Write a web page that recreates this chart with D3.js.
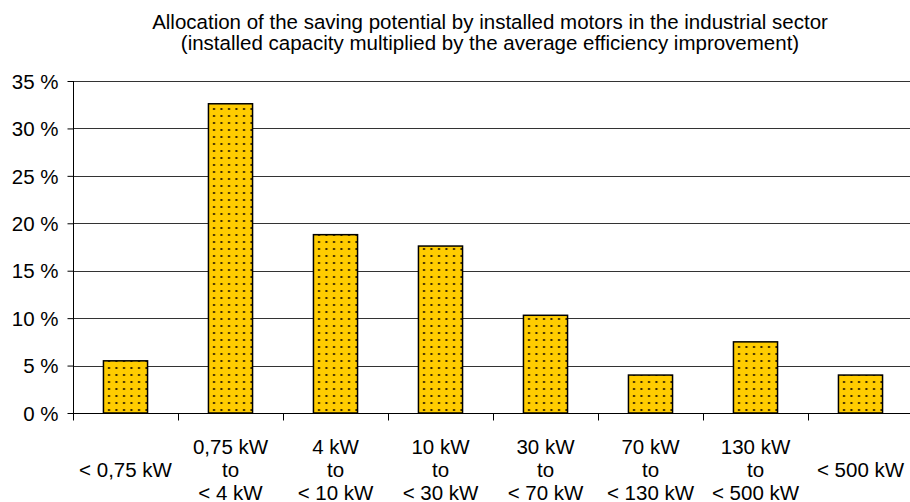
<!DOCTYPE html>
<html lang="en">
<head>
    <meta charset="UTF-8">
    <title>Allocation of the saving potential</title>
    <script src="https://d3js.org/d3.v7.min.js"></script>
    <style>
        body {
            margin: 0;
            background: #fff;
            font-family: 'Liberation Sans', Arial, sans-serif;
        }
        .title { font-size: 20.5px; fill: #000; }
        .axis text { font-size: 20.5px; fill: #000; font-family: 'Liberation Sans', Arial, sans-serif; }
        .axis path, .axis line { stroke: #000; }
        .grid line { stroke: #333; }
        .bar { stroke: #000; stroke-width: 1.5; }
    </style>
</head>
<body>
    <svg id="chart" width="910" height="502"></svg>

    <script>
        const categories = [
            ["", "< 0,75 kW", ""],
            ["0,75 kW", "to", "< 4 kW"],
            ["4 kW", "to", "< 10 kW"],
            ["10 kW", "to", "< 30 kW"],
            ["30 kW", "to", "< 70 kW"],
            ["70 kW", "to", "< 130 kW"],
            ["130 kW", "to", "< 500 kW"],
            ["", "< 500 kW", ""]
        ];
        const values = [5.5, 32.6, 18.8, 17.6, 10.3, 4.0, 7.5, 4.0];
        const yTicks = [0, 5, 10, 15, 20, 25, 30, 35];
        const titleLines = [
            "Allocation of the saving potential by installed motors in the industrial sector",
            "(installed capacity multiplied by the average efficiency improvement)"
        ];

        const svg = d3.select("#chart");
        const margin = { left: 73, top: 81, bottom: 413 };
        const bandW = 105;
        const right = margin.left + bandW * categories.length;

        // dotted fill pattern
        const pat = svg.append("defs").append("pattern")
            .attr("id", "dots")
            .attr("patternUnits", "userSpaceOnUse")
            .attr("width", 7.5)
            .attr("height", 7);
        pat.append("rect").attr("width", 7.5).attr("height", 7).attr("fill", "#FFCC00");
        pat.append("rect").attr("x", 3).attr("y", 3).attr("width", 2).attr("height", 2).attr("fill", "#332200");

        const x = d3.scaleBand()
            .domain(d3.range(categories.length))
            .range([margin.left, right])
            .paddingInner(0.58)
            .paddingOuter(0.29);

        const y = d3.scaleLinear()
            .domain([0, 35])
            .range([margin.bottom, margin.top]);

        // title
        svg.selectAll(".title")
            .data(titleLines)
            .join("text")
            .attr("class", "title")
            .attr("x", 490)
            .attr("y", (d, i) => 29 + i * 21)
            .attr("text-anchor", "middle")
            .text(d => d);

        // grid lines
        svg.append("g")
            .attr("class", "grid")
            .selectAll("line")
            .data(yTicks.filter(d => d > 0))
            .join("line")
            .attr("x1", margin.left)
            .attr("x2", 910)
            .attr("y1", d => Math.round(y(d)) + 0.5)
            .attr("y2", d => Math.round(y(d)) + 0.5);

        // bars
        svg.selectAll(".bar")
            .data(values)
            .join("rect")
            .attr("class", "bar")
            .attr("x", (d, i) => x(i))
            .attr("y", d => y(d))
            .attr("width", x.bandwidth())
            .attr("height", d => y(0) - y(d))
            .attr("fill", "url(#dots)");

        // y axis
        const yAxis = svg.append("g")
            .attr("class", "axis")
            .attr("transform", `translate(${margin.left + 0.5},0)`)
            .call(d3.axisLeft(y).tickValues(yTicks).tickSize(6).tickPadding(9).tickFormat(d => d + " %"));
        yAxis.select(".domain").attr("d", `M0,${margin.top}V${margin.bottom}`);
        yAxis.selectAll(".tick text").attr("dy", "0.35em");

        // x axis
        const xAxis = svg.append("g")
            .attr("class", "axis")
            .attr("transform", `translate(0,${Math.round(margin.bottom) + 0.5})`);
        xAxis.append("line")
            .attr("x1", margin.left).attr("x2", 910)
            .attr("stroke", "#000");
        xAxis.selectAll(".xtick")
            .data(d3.range(categories.length))
            .join("line")
            .attr("class", "xtick")
            .attr("x1", i => margin.left + i * bandW + 0.5)
            .attr("x2", i => margin.left + i * bandW + 0.5)
            .attr("y1", 0).attr("y2", 7)
            .attr("stroke", "#000");

        const labels = xAxis.selectAll(".xlabel")
            .data(categories)
            .join("text")
            .attr("class", "xlabel")
            .attr("text-anchor", "middle")
            .attr("transform", (d, i) => `translate(${x(i) + x.bandwidth() / 2},0)`);
        labels.selectAll("tspan")
            .data(d => d)
            .join("tspan")
            .attr("x", 0)
            .attr("y", (d, j) => 40 + j * 23)
            .text(d => d);
    </script>
</body>
</html>
